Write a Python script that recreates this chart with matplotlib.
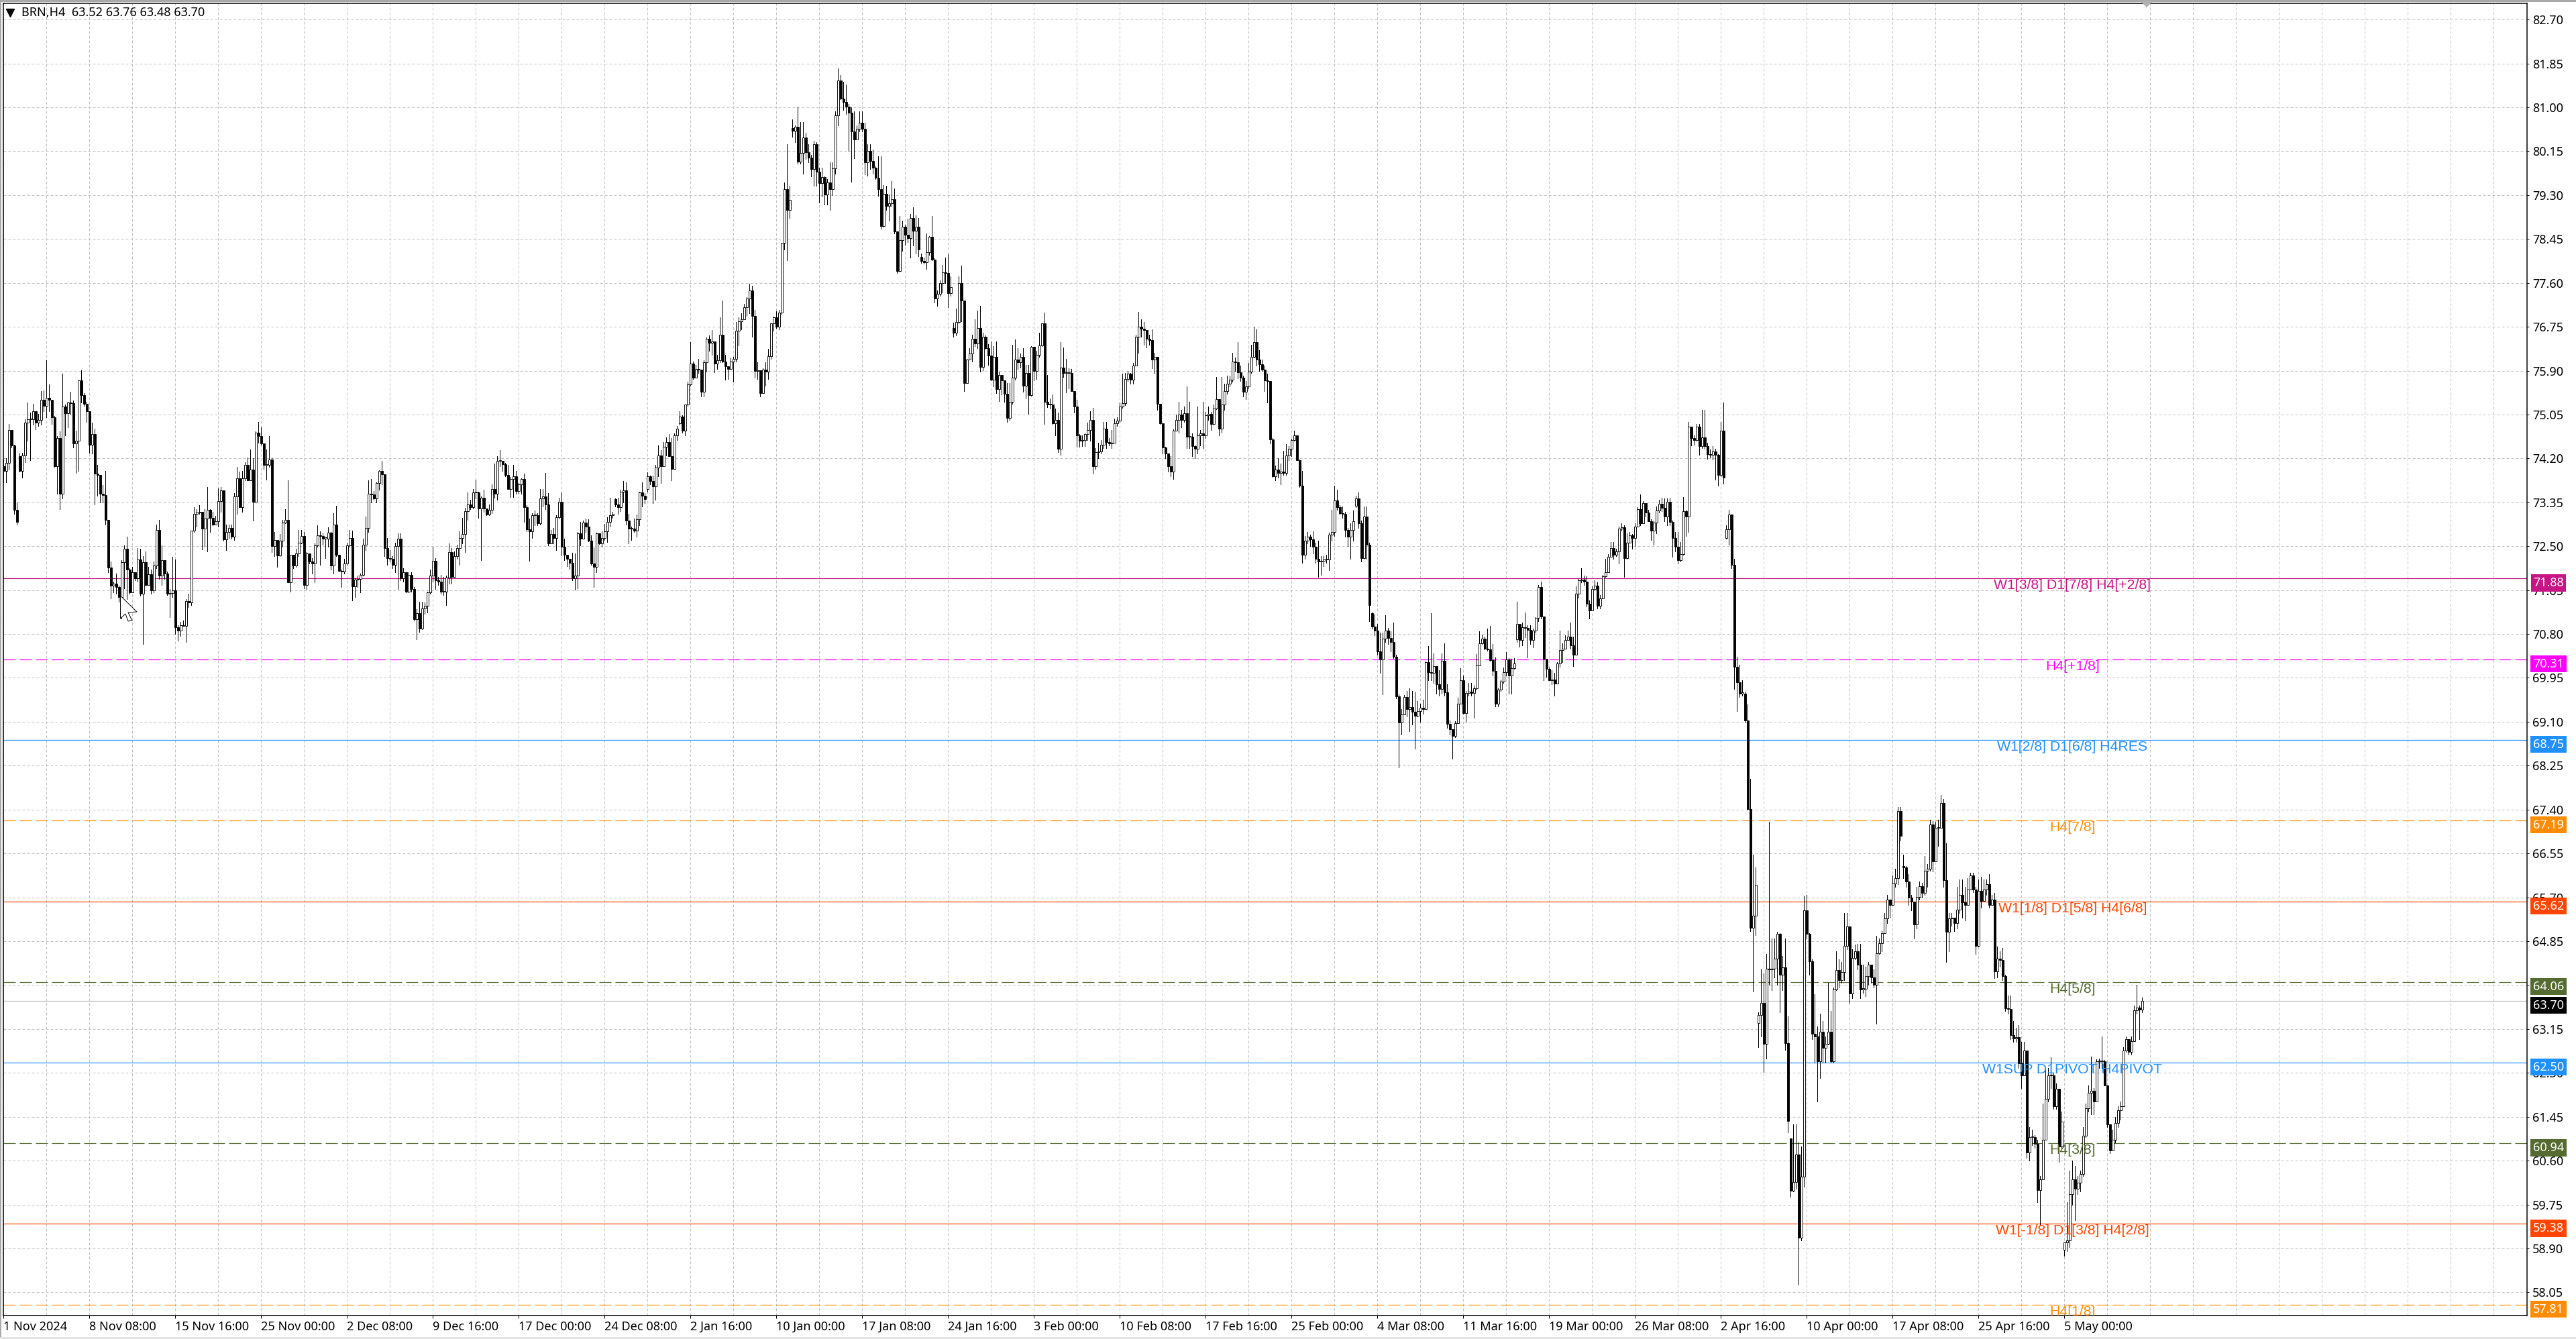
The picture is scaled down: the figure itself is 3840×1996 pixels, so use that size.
import numpy as np
import matplotlib
matplotlib.use("Agg")
import matplotlib.pyplot as plt
from matplotlib.patches import Polygon, Rectangle

plt.rcParams["lines.scale_dashes"] = False
plt.rcParams["font.family"] = ["Noto Sans", "DejaVu Sans"]

# Candles, in cents. Open is the previous close, except at gaps.
closes = [
    7396,7411,7475,7445,7320,7297,7396,7426,7489,7496,7496,7511,7489,7494,7534,7522,
    7538,7533,7500,7405,7460,7351,7520,7508,7528,7527,7449,7454,7571,7542,7526,7511,
    7447,7467,7390,7388,7351,7349,7301,7209,7174,7178,7171,7152,7219,7245,7205,7160,
    7199,7188,7224,7158,7219,7175,7196,7165,7213,7281,7193,7223,7197,7158,7159,7164,
    7093,7087,7097,7096,7144,7141,7280,7312,7315,7316,7284,7303,7321,7305,7292,7298,
    7337,7358,7263,7278,7285,7268,7347,7381,7326,7381,7408,7378,7398,7336,7470,7463,
    7449,7407,7408,7418,7250,7262,7232,7260,7296,7301,7180,7233,7213,7236,7257,7270,
    7175,7236,7221,7217,7251,7271,7270,7265,7265,7276,7213,7292,7234,7202,7201,7217,
    7251,7266,7172,7185,7187,7195,7253,7285,7351,7350,7343,7372,7396,7389,7247,7227,
    7225,7214,7250,7264,7188,7200,7162,7195,7167,7108,7120,7090,7130,7135,7160,7193,
    7222,7184,7182,7162,7162,7189,7239,7190,7231,7247,7266,7274,7318,7331,7326,7354,
    7354,7323,7344,7323,7311,7320,7361,7351,7415,7415,7409,7388,7361,7380,7386,7357,
    7370,7380,7325,7283,7279,7310,7310,7294,7342,7347,7331,7255,7274,7266,7306,7336,
    7249,7234,7225,7218,7188,7193,7275,7265,7296,7288,7260,7216,7210,7275,7255,7266,
    7279,7297,7310,7312,7331,7326,7356,7358,7299,7284,7284,7280,7302,7354,7348,7341,
    7386,7376,7366,7402,7426,7405,7443,7452,7425,7400,7464,7477,7501,7474,7524,7563,
    7603,7577,7593,7592,7549,7606,7652,7644,7647,7603,7610,7660,7608,7599,7593,7607,
    7613,7667,7686,7690,7713,7730,7745,7696,7589,7591,7547,7592,7588,7618,7681,7693,
    7675,7703,7837,7941,7901,7921,8054,8062,7995,8011,8041,8013,8003,7980,8029,7975,
    7953,7965,7931,7955,7941,7982,8085,8152,8117,8111,8101,8090,8053,8038,8058,8070,
    8058,7993,8015,7996,7983,7964,7942,7870,7932,7909,7914,7922,7859,7783,7843,7869,
    7853,7846,7885,7861,7869,7824,7802,7800,7819,7849,7805,7730,7739,7760,7780,7779,
    7740,7752,7664,7684,7760,7726,7566,7611,7623,7652,7643,7672,7597,7655,7634,7619,
    7573,7616,7554,7581,7571,7545,7499,7529,7576,7611,7606,7617,7561,7586,7542,7636,
    7589,7621,7639,7681,7530,7525,7524,7488,7494,7439,7596,7585,7586,7585,7551,7520,
    7464,7454,7456,7467,7475,7495,7405,7432,7434,7446,7477,7452,7449,7450,7488,7493,
    7520,7527,7574,7584,7572,7600,7656,7675,7671,7668,7652,7649,7611,7617,7526,7488,
    7441,7429,7405,7395,7474,7495,7505,7494,7507,7462,7462,7444,7439,7464,7468,7464,
    7504,7506,7487,7517,7535,7477,7524,7550,7565,7572,7607,7606,7587,7577,7549,7559,
    7588,7617,7645,7611,7602,7592,7571,7570,7457,7386,7398,7392,7394,7392,7426,7438,
    7456,7465,7417,7367,7234,7261,7269,7263,7249,7225,7220,7222,7224,7224,7272,7277,
    7339,7325,7314,7313,7281,7268,7282,7298,7342,7294,7227,7307,7253,7136,7094,7087,
    7046,7031,7071,7087,7072,7065,7036,6959,6909,6924,6958,6934,6938,6929,6922,6930,
    6937,6935,7025,7006,7005,7018,6982,6973,7028,6967,6906,6896,6883,6907,6945,6990,
    6927,6966,6968,6966,6975,7019,7062,7071,7052,7050,7030,7009,6945,6972,6988,7006,
    7031,7000,7014,7023,7099,7068,7093,7092,7088,7068,7087,7111,7171,7114,7032,7012,
    6990,6992,6984,7023,7049,7052,7068,7075,7058,7040,7158,7184,7185,7182,7139,7126,
    7167,7174,7135,7149,7192,7200,7229,7247,7234,7240,7284,7287,7227,7257,7271,7266,
    7288,7322,7295,7333,7315,7298,7280,7296,7319,7332,7324,7308,7336,7297,7266,7249,
    7223,7235,7318,7307,7481,7460,7456,7482,7444,7461,7444,7428,7427,7434,7427,7388,
    7474,7383,7283,7311,7214,7016,6986,6965,6965,6913,6741,6511,6534,6594,6342,6366,
    6286,6432,6430,6432,6451,6499,6420,6434,6288,6137,6002,6019,6072,5911,6029,6545,
    6499,6446,6306,6300,6253,6310,6278,6286,6310,6252,6392,6429,6410,6425,6476,6514,
    6384,6453,6466,6440,6392,6393,6418,6440,6415,6400,6461,6481,6501,6529,6566,6555,
    6597,6607,6737,6689,6628,6600,6570,6562,6517,6571,6592,6578,6622,6625,6711,6640,
    6705,6705,6753,6603,6503,6529,6530,6520,6546,6574,6560,6555,6585,6612,6585,6476,
    6582,6563,6585,6595,6555,6565,6427,6451,6449,6418,6355,6354,6303,6297,6299,6248,
    6225,6273,6076,6106,6106,6093,6003,6024,6101,6180,6225,6225,6165,6199,6087,6136,
    5902,5905,5995,6024,6006,6017,6034,6108,6162,6191,6195,6174,6252,6252,6252,6206,
    6130,6080,6101,6133,6158,6165,6273,6295,6270,6291,6351,6356,6352,6370,
]
highs = [
    7418,7420,7487,7474,7446,7335,7429,7431,7496,7528,7509,7526,7498,7506,7550,7552,
    7610,7563,7513,7502,7463,7473,7584,7524,7529,7549,7532,7474,7571,7591,7546,7530,
    7511,7489,7477,7407,7364,7368,7396,7301,7221,7182,7197,7174,7223,7251,7268,7208,
    7210,7197,7247,7245,7231,7240,7210,7205,7221,7292,7301,7251,7218,7201,7167,7229,
    7224,7097,7104,7106,7148,7158,7280,7325,7322,7329,7316,7322,7364,7322,7316,7309,
    7362,7364,7358,7292,7292,7292,7353,7403,7394,7396,7413,7422,7437,7420,7472,7490,
    7480,7449,7437,7463,7422,7277,7238,7273,7301,7322,7377,7234,7231,7245,7281,7281,
    7277,7238,7229,7227,7255,7291,7279,7275,7266,7286,7277,7314,7328,7231,7205,7225,
    7257,7281,7280,7188,7193,7197,7264,7307,7377,7380,7357,7374,7397,7415,7389,7266,
    7242,7231,7257,7275,7275,7208,7199,7199,7199,7171,7128,7143,7143,7141,7162,7205,
    7249,7227,7190,7195,7190,7193,7255,7247,7240,7253,7279,7305,7324,7354,7340,7361,
    7379,7356,7347,7360,7318,7331,7370,7410,7424,7436,7413,7411,7408,7384,7408,7396,
    7372,7382,7390,7329,7303,7314,7319,7314,7361,7361,7392,7353,7281,7285,7310,7344,
    7354,7265,7229,7226,7237,7236,7278,7297,7299,7304,7302,7271,7248,7276,7266,7279,
    7293,7306,7344,7317,7342,7344,7359,7376,7374,7312,7288,7303,7311,7355,7374,7353,
    7393,7387,7387,7407,7445,7436,7452,7461,7467,7460,7468,7483,7512,7503,7525,7568,
    7645,7607,7601,7613,7590,7610,7654,7658,7668,7646,7621,7693,7726,7621,7595,7615,
    7617,7684,7693,7701,7719,7732,7758,7755,7707,7606,7584,7594,7606,7632,7682,7695,
    7705,7708,7838,7954,8028,7948,8076,8065,8101,8072,8072,8050,8028,8008,8035,8033,
    7983,7983,7966,7961,7993,7993,8092,8175,8162,8149,8144,8107,8100,8092,8065,8092,
    8092,8070,8028,8028,8018,7985,8005,8005,7949,7948,7931,7957,7943,7859,7889,7881,
    7873,7884,7894,7906,7891,7886,7817,7809,7856,7850,7890,7807,7745,7765,7794,7809,
    7816,7772,7683,7710,7772,7793,7725,7613,7633,7660,7689,7706,7715,7663,7658,7641,
    7647,7638,7647,7588,7573,7571,7566,7566,7640,7650,7633,7623,7633,7601,7601,7638,
    7601,7628,7663,7682,7702,7581,7536,7544,7516,7509,7645,7635,7613,7594,7593,7551,
    7534,7467,7464,7469,7489,7511,7518,7440,7450,7455,7491,7490,7460,7475,7497,7500,
    7528,7584,7585,7590,7585,7605,7660,7704,7690,7684,7668,7660,7670,7625,7617,7526,
    7484,7443,7430,7425,7476,7505,7530,7514,7520,7560,7530,7468,7445,7520,7475,7530,
    7510,7520,7510,7525,7578,7535,7578,7565,7580,7580,7625,7615,7645,7600,7580,7570,
    7605,7640,7675,7670,7630,7612,7600,7584,7570,7459,7406,7421,7410,7435,7448,7444,
    7458,7474,7464,7418,7396,7270,7277,7272,7279,7257,7261,7231,7231,7233,7276,7321,
    7367,7360,7330,7327,7316,7285,7294,7319,7348,7354,7300,7327,7327,7257,7122,7118,
    7100,7082,7082,7117,7092,7085,7102,7040,6963,6935,6962,6970,6975,6970,6968,6950,
    6945,6953,7027,7057,7120,7042,6998,7010,7042,7062,6982,6913,6890,6911,6957,7014,
    7000,6970,6985,6985,6980,7041,7085,7079,7075,7090,7096,7060,7035,6975,6992,7015,
    7045,7033,7032,7033,7143,7099,7102,7121,7097,7097,7090,7113,7175,7181,7114,7032,
    7015,7010,7005,7026,7087,7062,7078,7086,7102,7075,7172,7187,7207,7193,7192,7145,
    7172,7184,7180,7155,7195,7225,7235,7258,7258,7245,7288,7294,7291,7275,7278,7274,
    7294,7326,7350,7337,7325,7320,7302,7300,7327,7340,7344,7342,7342,7344,7300,7278,
    7278,7258,7345,7320,7491,7480,7465,7487,7487,7514,7514,7450,7437,7444,7438,7428,
    7490,7528,7290,7320,7311,7225,7036,7020,6990,6968,6943,6800,6652,6628,6347,6430,
    6423,6460,6716,6490,6490,6503,6500,6456,6490,6340,6100,6130,6130,6095,6088,6572,
    6575,6500,6450,6382,6320,6345,6330,6300,6405,6350,6395,6465,6450,6445,6540,6540,
    6510,6470,6478,6480,6480,6440,6435,6445,6430,6430,6495,6490,6505,6540,6575,6565,
    6612,6625,6745,6745,6652,6630,6615,6575,6560,6590,6600,6598,6650,6635,6720,6718,
    6716,6720,6768,6760,6675,6540,6540,6530,6590,6604,6604,6590,6607,6618,6618,6590,
    6605,6610,6605,6605,6615,6575,6578,6474,6465,6472,6420,6380,6380,6330,6318,6322,
    6290,6290,6250,6125,6120,6110,6100,6030,6170,6235,6240,6260,6230,6210,6195,6155,
    5900,5980,6040,6060,6050,6030,6040,6125,6170,6205,6262,6200,6256,6258,6300,6255,
    6205,6130,6120,6145,6165,6175,6280,6300,6295,6300,6360,6400,6360,6376,
]
lows = [
    7374,7374,7398,7441,7312,7292,7394,7383,7413,7454,7416,7485,7476,7483,7485,7511,
    7500,7511,7487,7403,7351,7322,7342,7465,7480,7506,7441,7392,7396,7528,7522,7491,
    7431,7429,7331,7348,7335,7335,7292,7199,7149,7160,7158,7142,7110,7169,7147,7158,
    7162,7184,7182,7154,7060,7173,7193,7158,7160,7208,7186,7175,7186,7155,7113,7151,
    7080,7067,7076,7095,7065,7132,7136,7277,7288,7312,7244,7249,7240,7277,7290,7292,
    7288,7316,7260,7242,7266,7264,7262,7312,7325,7316,7377,7377,7377,7299,7335,7450,
    7446,7400,7379,7403,7238,7231,7210,7231,7249,7294,7180,7162,7208,7210,7231,7255,
    7169,7167,7216,7197,7180,7249,7214,7253,7227,7249,7205,7197,7231,7201,7171,7197,
    7214,7249,7145,7151,7171,7160,7193,7242,7277,7335,7340,7335,7359,7370,7231,7214,
    7221,7208,7199,7167,7184,7182,7160,7160,7162,7106,7070,7084,7089,7119,7121,7158,
    7182,7167,7175,7158,7156,7136,7177,7177,7195,7225,7214,7255,7238,7301,7322,7323,
    7342,7305,7223,7316,7310,7310,7314,7344,7340,7405,7396,7385,7361,7345,7345,7351,
    7352,7352,7297,7279,7222,7266,7290,7290,7292,7327,7322,7251,7258,7255,7242,7303,
    7232,7223,7211,7206,7184,7166,7169,7251,7270,7277,7259,7214,7171,7200,7254,7249,
    7262,7258,7288,7305,7327,7312,7318,7335,7292,7255,7262,7277,7268,7290,7327,7333,
    7356,7370,7333,7340,7386,7373,7418,7426,7424,7377,7400,7455,7485,7470,7464,7522,
    7561,7574,7580,7585,7540,7540,7588,7628,7621,7587,7593,7606,7606,7573,7574,7593,
    7568,7608,7639,7670,7699,7696,7701,7656,7576,7574,7540,7548,7561,7574,7613,7667,
    7673,7670,7700,7824,7804,7885,8043,8033,7991,7991,7971,8000,7993,7966,7948,7948,
    7916,7927,7911,7911,7901,7930,7971,8065,8115,8095,8087,8015,7956,8001,8045,8053,
    8053,7970,7968,7981,7971,7961,7928,7865,7869,7901,7881,7909,7856,7779,7782,7822,
    7834,7839,7809,7832,7817,7812,7799,7797,7787,7814,7804,7722,7715,7735,7742,7760,
    7713,7735,7655,7658,7681,7685,7551,7566,7611,7608,7638,7633,7588,7591,7632,7601,
    7571,7559,7546,7531,7544,7529,7490,7494,7526,7573,7593,7596,7549,7536,7506,7541,
    7571,7574,7616,7638,7487,7519,7516,7487,7464,7432,7427,7578,7548,7555,7551,7509,
    7442,7442,7444,7444,7455,7454,7390,7400,7420,7430,7440,7440,7445,7440,7473,7483,
    7490,7518,7523,7570,7565,7565,7600,7625,7655,7640,7635,7640,7595,7586,7514,7487,
    7430,7420,7395,7385,7380,7475,7470,7480,7490,7440,7440,7425,7420,7430,7445,7440,
    7460,7495,7475,7485,7515,7465,7470,7514,7545,7560,7568,7590,7575,7570,7540,7535,
    7555,7585,7615,7600,7590,7590,7551,7528,7449,7384,7378,7383,7370,7388,7388,7417,
    7424,7454,7416,7364,7218,7225,7255,7250,7236,7218,7190,7194,7211,7218,7204,7261,
    7270,7320,7311,7305,7268,7250,7226,7260,7325,7285,7220,7226,7225,7105,7090,7078,
    7040,7005,6963,7065,7060,7046,7033,6955,6822,6885,6930,6920,6892,6905,6858,6920,
    6910,6925,6935,6990,6990,6985,6965,6960,6965,6960,6898,6885,6838,6880,6908,6945,
    6925,6910,6960,6960,6918,6972,7020,7060,7050,7048,7028,7000,6940,6940,6970,6985,
    7000,6965,6965,7012,7065,7056,7058,7073,7035,7060,7054,7082,7105,7110,6990,6997,
    6990,6983,6960,6985,7016,7025,7052,7068,7052,7018,7040,7150,7180,7175,7133,7110,
    7125,7165,7130,7130,7150,7190,7200,7230,7225,7231,7216,7280,7190,7225,7263,7245,
    7250,7288,7290,7295,7308,7298,7262,7253,7275,7315,7318,7298,7290,7290,7230,7240,
    7216,7220,7233,7270,7278,7445,7447,7454,7427,7440,7439,7419,7422,7418,7379,7367,
    7386,7371,7265,7253,7207,6974,6930,6958,6960,6908,6739,6505,6388,6497,6280,6300,
    6232,6258,6400,6390,6415,6400,6347,6390,6275,6115,5990,6000,6005,5820,5905,6010,
    6490,6420,6295,6250,6175,6220,6250,6250,6285,6250,6250,6390,6395,6405,6410,6470,
    6365,6375,6450,6430,6375,6385,6378,6400,6405,6395,6325,6460,6465,6500,6520,6530,
    6570,6590,6595,6680,6607,6590,6555,6545,6490,6510,6565,6570,6575,6590,6622,6620,
    6680,6670,6705,6590,6445,6465,6515,6505,6510,6540,6530,6525,6555,6585,6580,6460,
    6475,6550,6565,6575,6550,6555,6413,6415,6435,6410,6350,6345,6295,6290,6290,6240,
    6200,6225,6065,6060,6090,6085,5980,5935,6040,6100,6175,6200,6160,6160,6058,6085,
    5876,5885,5893,5975,5945,5995,6000,6030,6105,6155,6150,6150,6190,6240,6240,6205,
    6125,6075,6090,6095,6125,6140,6165,6270,6265,6265,6295,6345,6295,6347,
]
first_open = 7405
gap_opens = {6: 7425, 228: 7341, 240: 7361, 252: 7488, 294: 8060, 342: 7810,
             354: 7672, 504: 7328, 510: 7120, 564: 7070, 642: 7266, 654: 6327,
             666: 6103, 708: 6630, 768: 5887}

date_labels = ["1 Nov 2024", "8 Nov 08:00", "15 Nov 16:00", "25 Nov 00:00", "2 Dec 08:00",
               "9 Dec 16:00", "17 Dec 00:00", "24 Dec 08:00", "2 Jan 16:00", "10 Jan 00:00",
               "17 Jan 08:00", "24 Jan 16:00", "3 Feb 00:00", "10 Feb 08:00", "17 Feb 16:00",
               "25 Feb 00:00", "4 Mar 08:00", "11 Mar 16:00", "19 Mar 00:00", "26 Mar 08:00",
               "2 Apr 16:00", "10 Apr 00:00", "17 Apr 08:00", "25 Apr 16:00", "5 May 00:00"]
price_ticks = [82.70, 81.85, 81.00, 80.15, 79.30, 78.45, 77.60, 76.75, 75.90, 75.05,
               74.20, 73.35, 72.50, 71.65, 70.80, 69.95, 69.10, 68.25, 67.40, 66.55,
               65.70, 64.85, 64.00, 63.15, 62.30, 61.45, 60.60, 59.75, 58.90, 58.05]

level_prices = [71.88, 70.31, 68.75, 67.19, 65.62, 64.06, 62.50, 60.94, 59.38, 57.81]
level_colors = ["#C71585", "#FF00FF", "#1E90FF", "#FF8C00", "#FF4500",
                "#556B2F", "#1E90FF", "#556B2F", "#FF4500", "#FF8C00"]
level_names = ["W1[3/8] D1[7/8] H4[+2/8]", "H4[+1/8]", "W1[2/8] D1[6/8] H4RES", "H4[7/8]",
               "W1[1/8] D1[5/8] H4[6/8]", "H4[5/8]", "W1SUP D1PIVOT H4PIVOT", "H4[3/8]",
               "W1[-1/8] D1[3/8] H4[2/8]", "H4[1/8]"]
level_dashed = [False, True, False, True, False, True, False, True, False, True]
last_price = 63.70

W, H = 3840, 1996
PX = 72 / 100  # points per pixel at dpi 100
FONT = 13

closes = np.array(closes) / 100
highs = np.array(highs) / 100
lows = np.array(lows) / 100
opens = np.r_[first_open / 100, closes[:-1]]
for bar, price in gap_opens.items():
    opens[bar] = price / 100
bars = np.arange(len(closes))

fig = plt.figure(figsize=(W / 100, H / 100), dpi=100, facecolor="white")
ax = fig.add_axes([4.5 / W, 1 - 1961 / H, (3767 - 4.5) / W, (1961 - 4.5) / H])
ax.set_xlim(-0.22, 940.4)
ax.set_ylim(57.60, 83.02)
ax.set_axisbelow(True)

# grid
grid_style = dict(color="#C0C0C0", lw=1 * PX, dashes=(4 * PX, 3 * PX))
ax.grid(True, which="both", axis="x", **grid_style)
ax.grid(True, which="major", axis="y", **grid_style)

# level lines and their labels
for price, color, name, dashed in zip(level_prices, level_colors, level_names, level_dashed):
    line = ax.axhline(price, color=color, lw=1.2 * PX, zorder=1.5)
    if dashed:
        line.set_dashes((18 * PX, 6 * PX))
    ax.annotate(name, (771, price), xytext=(0, -11 * PX), textcoords="offset points",
                ha="center", va="center", color=color, fontsize=15.3,
                family="Liberation Sans", zorder=4, annotation_clip=False, clip_on=True)
    ax.annotate(f"{price:.2f}", (1, price), xycoords=ax.get_yaxis_transform(),
                xytext=(32 * PX, -7 * PX), textcoords="offset points", ha="center", va="center",
                color="white", fontsize=FONT, zorder=5, annotation_clip=False,
                bbox=dict(boxstyle="square,pad=0.2", fc=color, ec=color, lw=0))
ax.axhline(last_price, color="#C0C0C0", lw=1.2 * PX, zorder=1.5)
ax.annotate(f"{last_price:.2f}", (1, last_price), xycoords=ax.get_yaxis_transform(),
            xytext=(32 * PX, -7 * PX), textcoords="offset points", ha="center", va="center",
            color="white", fontsize=FONT, zorder=6, annotation_clip=False,
            bbox=dict(boxstyle="square,pad=0.2", fc="black", ec="black", lw=0))

# candles
up = closes >= opens
ax.vlines(bars, lows, highs, color="black", lw=1.0 * PX, zorder=2, antialiased=False)
ax.bar(bars[up], np.maximum(closes[up] - opens[up], 0.015), bottom=opens[up], width=0.65,
       facecolor="white", edgecolor="black", lw=0.9 * PX, zorder=3)
ax.bar(bars[~up], np.maximum(opens[~up] - closes[~up], 0.015), bottom=closes[~up], width=0.65,
       facecolor="black", edgecolor="black", lw=0.9 * PX, zorder=3)

# axes
ax.yaxis.tick_right()
ax.set_yticks(price_ticks)
ax.set_yticklabels([f"{t:.2f}" for t in price_ticks])
ax.tick_params(axis="y", length=3 * PX, width=1 * PX, pad=5 * PX, labelsize=FONT)
ax.set_xticks(np.arange(len(date_labels)) * 32)
ax.set_xticklabels(date_labels, ha="left")
ax.set_xticks(np.arange(16, 940, 16), minor=True)
ax.tick_params(axis="x", which="major", length=4 * PX, width=1 * PX, pad=4 * PX, labelsize=FONT)
ax.tick_params(axis="x", which="minor", length=0)
for spine in ax.spines.values():
    spine.set_linewidth(1.5 * PX)

# header text
ax.plot([15 / W], [1 - 19 / H], marker="v", ms=8, color="black", transform=fig.transFigure, clip_on=False)
fig.text(32 / W, 1 - 19 / H, "BRN,H4  63.52 63.76 63.48 63.70", fontsize=FONT, va="center")

# window chrome
fig.add_artist(Rectangle((0, 1 - 3 / H), 1, 3 / H, transform=fig.transFigure, fc="#A8A8A8", ec="none"))
fig.add_artist(Rectangle((0, 0), 2 / W, 1, transform=fig.transFigure, fc="#A8A8A8", ec="none"))
fig.add_artist(Rectangle((0, 0), 1, 3 / H, transform=fig.transFigure, fc="#E4E4E4", ec="none"))
fig.add_artist(Polygon([(3190 / W, 1 - 1 / H), (3210 / W, 1 - 1 / H), (3200 / W, 1 - 11 / H)],
                       transform=fig.transFigure, fc="#B0B0B0", ec="none"))

# mouse pointer caught in the screenshot
cursor_px = [(179.5, 888), (204, 912), (191, 913), (197, 925), (191, 926), (187, 915), (179.5, 922)]
fig.add_artist(Polygon([(x / W, 1 - y / H) for x, y in cursor_px], transform=fig.transFigure,
                       fc="white", ec="black", lw=0.7, zorder=10))

fig.savefig("out.png", dpi=100)
